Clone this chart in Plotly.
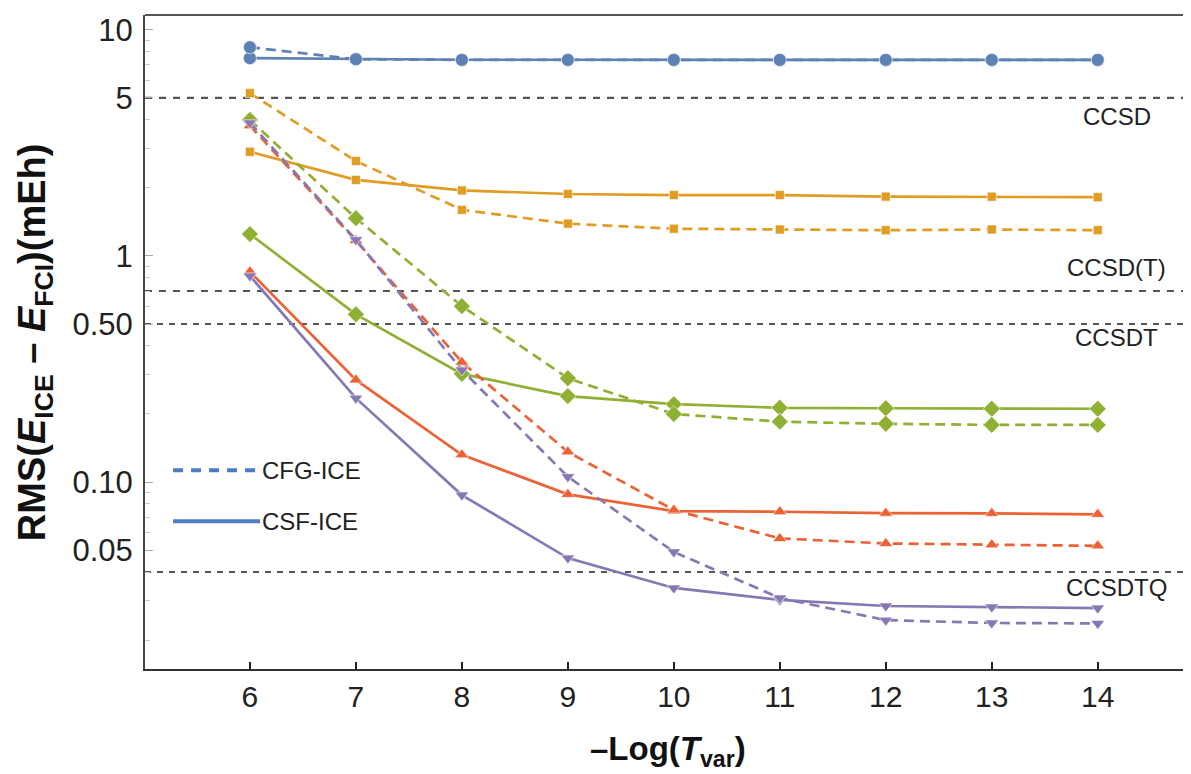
import numpy as np
import plotly.graph_objects as go

# ---------------- data ----------------
x_vals = [6, 7, 8, 9, 10, 11, 12, 13, 14]

blue_cfg = [8.38, 7.42, 7.37, 7.37, 7.37, 7.37, 7.37, 7.37, 7.37]
blue_csf = [7.50, 7.44, 7.38, 7.38, 7.38, 7.37, 7.37, 7.37, 7.37]

orange_cfg = [5.25, 2.63, 1.60, 1.39, 1.32, 1.31, 1.30, 1.31, 1.30]
orange_csf = [2.89, 2.17, 1.95, 1.88, 1.86, 1.86, 1.83, 1.83, 1.82]

green_cfg = [4.00, 1.47, 0.600, 0.288, 0.200, 0.185, 0.181, 0.179, 0.179]
green_csf = [1.25, 0.552, 0.301, 0.240, 0.221, 0.213, 0.212, 0.211, 0.211]

red_cfg = [3.77, 1.17, 0.339, 0.136, 0.0752, 0.0563, 0.0535, 0.0528, 0.0522]
red_csf = [0.852, 0.283, 0.132, 0.0882, 0.0744, 0.0739, 0.0728, 0.0727, 0.0720]

purple_cfg = [3.88, 1.18, 0.313, 0.1056, 0.0491, 0.0307, 0.0245, 0.0238, 0.0237]
purple_csf = [0.816, 0.235, 0.0876, 0.0461, 0.0340, 0.0301, 0.0283, 0.0280, 0.0277]

ref_values = [5, 0.7, 0.5, 0.04]
ref_labels = ["CCSD", "CCSD(T)", "CCSDT", "CCSDTQ"]

ytick_vals = [0.05, 0.1, 0.5, 1, 5, 10]
ytick_text = ["0.05", "0.10", "0.50", "1", "5", "10"]
yminor_vals = [0.02, 0.03, 0.04, 0.06, 0.07, 0.08, 0.09,
               0.2, 0.3, 0.4, 0.6, 0.7, 0.8, 0.9,
               2, 3, 4, 6, 7, 8, 9]

legend_names = ["CFG-ICE", "CSF-ICE"]

# ---------------- styling ----------------
FONT = "Liberation Sans, Arial, Helvetica, sans-serif"
colors = {
    "blue": "#5E81B5",
    "orange": "#E19C24",
    "green": "#8FB032",
    "red": "#EB6235",
    "purple": "#8778B3",
}
symbols = {
    "blue": ("circle", 13),
    "orange": ("square", 9),
    "green": ("diamond", 13),
    "red": ("triangle-up", 12),
    "purple": ("triangle-down", 12),
}
series = [
    ("blue", blue_cfg, blue_csf),
    ("orange", orange_cfg, orange_csf),
    ("green", green_cfg, green_csf),
    ("red", red_cfg, red_csf),
    ("purple", purple_cfg, purple_csf),
]

x_range = [5.01, 14.88]
y_range_log = [-1.827, 1.066]

fig = go.Figure()

# reference (method) lines
ref_styles = [("#555555", 2.2, "7px,7px"), ("#555555", 2.2, "7px,7px"),
              ("#222222", 1.5, "6px,6px"), ("#222222", 1.5, "6px,6px")]
for val, (col, w, dash) in zip(ref_values, ref_styles):
    fig.add_trace(go.Scatter(
        x=x_range, y=[val, val], mode="lines",
        line=dict(color=col, width=w, dash=dash),
        showlegend=False, hoverinfo="skip"))

# data series
for name, cfg, csf in series:
    sym, size = symbols[name]
    col = colors[name]
    fig.add_trace(go.Scatter(
        x=x_vals, y=csf, mode="lines+markers",
        line=dict(color=col, width=2.7),
        marker=dict(symbol=sym, size=size, color=col,
                    line=dict(color="white", width=0.6)),
        showlegend=False))
    fig.add_trace(go.Scatter(
        x=x_vals, y=cfg, mode="lines+markers",
        line=dict(color=col, width=2.7, dash="10px,6px"),
        marker=dict(symbol=sym, size=size, color=col,
                    line=dict(color="white", width=0.6)),
        showlegend=False))

# reference-line labels
label_shift = [-19, 24, -13, -15]
for val, lab, ys in zip(ref_values, ref_labels, label_shift):
    fig.add_annotation(
        x=14.18, y=np.log10(val), xref="x", yref="y",
        text=lab, showarrow=False, xanchor="center", yanchor="middle",
        yshift=ys, font=dict(family=FONT, size=24, color="#222222"))

# hand-drawn legend (long line samples as in the reference)
leg_y = [0.304, 0.226]
leg_dash = ["10px,8px", "solid"]
for yy, dsh, nm in zip(leg_y, leg_dash, legend_names):
    fig.add_shape(type="line", xref="paper", yref="paper",
                  x0=0.0268, x1=0.110, y0=yy, y1=yy,
                  line=dict(color="#4D7CC6", width=4, dash=dsh))
    fig.add_annotation(x=0.110, y=yy, xref="paper", yref="paper",
                       text=nm, showarrow=False, xanchor="left",
                       yanchor="middle",
                       font=dict(family=FONT, size=24, color="#222222"))

# top frame line
fig.add_shape(type="line", xref="paper", yref="paper",
              x0=0, x1=1, y0=1, y1=1,
              line=dict(color="#555555", width=2))

# axis titles
fig.add_annotation(
    x=0.5, y=-0.125, xref="paper", yref="paper",
    text="<b>–Log(<i>T</i><sub>var</sub>)</b>", showarrow=False,
    xanchor="center", yanchor="middle",
    font=dict(family=FONT, size=33, color="#111111"))
fig.add_annotation(
    x=-0.105, y=0.5, xref="paper", yref="paper", textangle=-90,
    text="<b>RMS(<i>E</i><sub>ICE</sub> – <i>E</i><sub>FCI</sub>)(mEh)</b>",
    showarrow=False, xanchor="center", yanchor="middle",
    font=dict(family=FONT, size=38, color="#111111"))

# the page adds an 8px body margin, so the figure is 8px smaller
fig.update_layout(
    width=1183, height=766,
    margin=dict(l=137, r=0, t=7, b=105),
    paper_bgcolor="white", plot_bgcolor="white",
    showlegend=False,
    font=dict(family=FONT, color="#222222"),
)
fig.update_xaxes(
    range=x_range, tickmode="array", tickvals=x_vals,
    ticktext=[str(v) for v in x_vals],
    ticks="inside", ticklen=7, tickwidth=1.5, tickcolor="#222222",
    showline=True, linecolor="#333333", linewidth=2,
    showgrid=False, zeroline=False,
    tickfont=dict(family=FONT, size=30, color="#222222"),
    ticklabelstandoff=0,
)
fig.update_yaxes(
    type="log", range=y_range_log, tickmode="array",
    tickvals=ytick_vals, ticktext=ytick_text,
    ticks="inside", ticklen=8, tickwidth=1.2, tickcolor="#aaaaaa",
    minor=dict(tickmode="array", tickvals=yminor_vals, ticks="inside",
               ticklen=5, tickwidth=1, tickcolor="#cccccc", showgrid=False),
    showline=True, linecolor="#444444", linewidth=2,
    showgrid=False, zeroline=False,
    tickfont=dict(family=FONT, size=31, color="#222222"),
    ticklabelstandoff=4,
)

fig.write_html("out.html")
